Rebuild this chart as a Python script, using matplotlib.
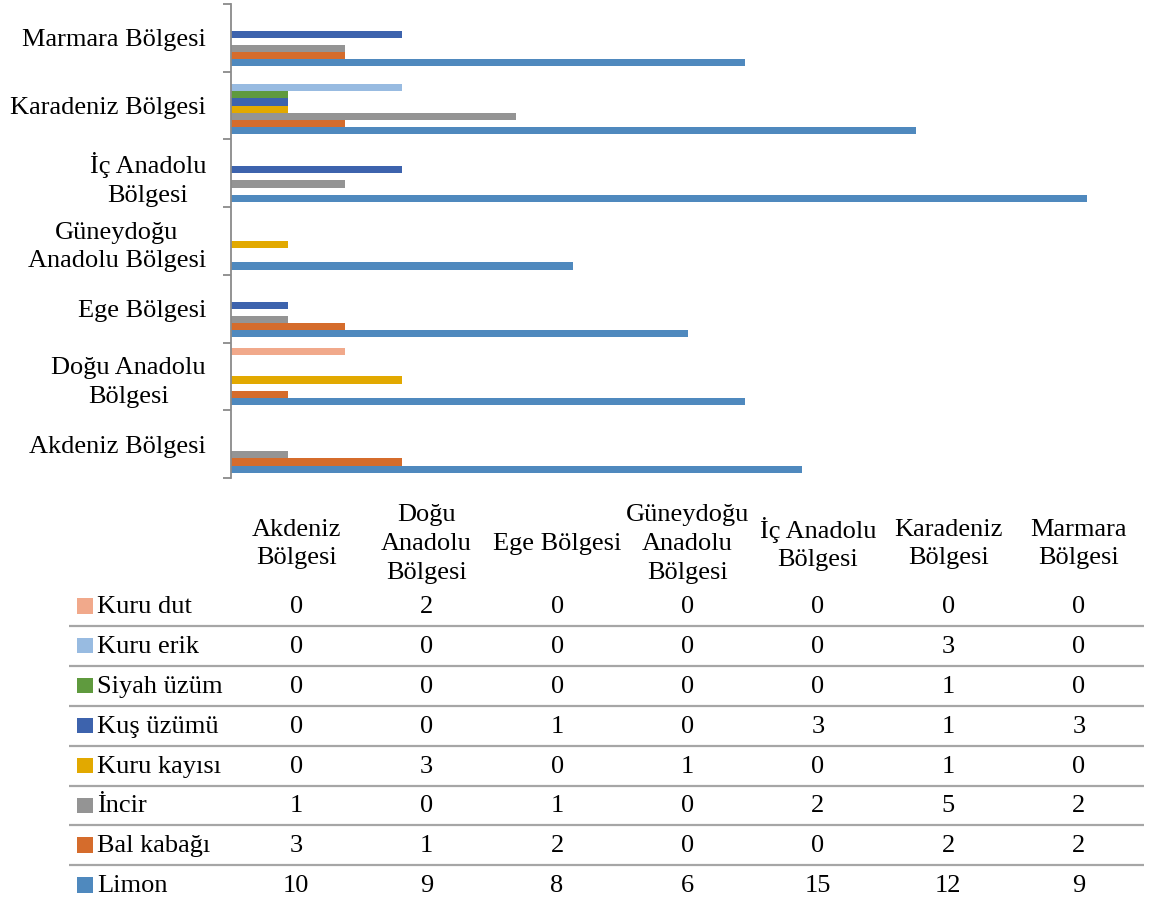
import matplotlib
matplotlib.use("Agg")
import matplotlib.pyplot as plt
import numpy as np

plt.rcParams["font.family"] = ["Liberation Serif", "DejaVu Serif"]

# regions, bottom to top on the bar axis (table columns read left to right)
REGIONS = ["Akdeniz Bölgesi", "Doğu Anadolu Bölgesi", "Ege Bölgesi",
           "Güneydoğu Anadolu Bölgesi", "İç Anadolu Bölgesi",
           "Karadeniz Bölgesi", "Marmara Bölgesi"]
AXIS_LABELS = ["Akdeniz Bölgesi", "Doğu Anadolu\nBölgesi", "Ege Bölgesi",
               "Güneydoğu\nAnadolu Bölgesi", "İç Anadolu\nBölgesi",
               "Karadeniz Bölgesi", "Marmara Bölgesi"]
TABLE_HEADERS = ["Akdeniz\nBölgesi", "Doğu\nAnadolu\nBölgesi", "Ege Bölgesi",
                 "Güneydoğu\nAnadolu\nBölgesi", "İç Anadolu\nBölgesi",
                 "Karadeniz\nBölgesi", "Marmara\nBölgesi"]

# series in plotting order (first = lowest bar in each group)
SERIES = ["Limon", "Bal kabağı", "İncir", "Kuru kayısı",
          "Kuş üzümü", "Siyah üzüm", "Kuru erik", "Kuru dut"]
limon = [10, 9, 8, 6, 15, 12, 9]
bal_kabagi = [3, 1, 2, 0, 0, 2, 2]
incir = [1, 0, 1, 0, 2, 5, 2]
kuru_kayisi = [0, 3, 0, 1, 0, 1, 0]
kus_uzumu = [0, 0, 1, 0, 3, 1, 3]
siyah_uzum = [0, 0, 0, 0, 0, 1, 0]
kuru_erik = [0, 0, 0, 0, 0, 3, 0]
kuru_dut = [0, 2, 0, 0, 0, 0, 0]
VALUES = [limon, bal_kabagi, incir, kuru_kayisi,
          kus_uzumu, siyah_uzum, kuru_erik, kuru_dut]

COLORS = ["#4f89be", "#d56c2c", "#949494", "#e2a900",
          "#3d63ad", "#5f9a3e", "#98bbe1", "#f1a98b"]

W, H = 1152, 902
FS = 19
LS = 1.4
fig = plt.figure(figsize=(W / 100, H / 100), dpi=100)

# plot area in pixels: x 231..1144, y 4..478
left, right, top, bottom = 231, 1144, 4, 478
ax = fig.add_axes([left / W, 1 - bottom / H, (right - left) / W, (bottom - top) / H])

n = len(SERIES)
gap = 1.5
bh = 1.0 / (n + gap)
cats = np.arange(len(REGIONS))
for i, (name, vals, col) in enumerate(zip(SERIES, VALUES, COLORS)):
    ypos = cats - 0.5 + bh * gap / 2 + (i + 0.5) * bh
    ax.barh(ypos, vals, height=bh, color=col, linewidth=0, label=name)

ax.set_xlim(0, 16)
ax.set_ylim(-0.5, len(REGIONS) - 0.5)
for s in ["top", "right", "bottom"]:
    ax.spines[s].set_visible(False)
ax.spines["left"].set_color("#8a8a8a")
ax.spines["left"].set_linewidth(1.3)
ax.set_xticks([])
ax.set_yticks(cats)
ax.set_yticklabels(AXIS_LABELS, fontsize=FS, multialignment="center", linespacing=LS)
ax.set_yticks(np.arange(-0.5, len(REGIONS)), minor=True)
ax.tick_params(axis="y", which="major", length=0, pad=18)
ax.tick_params(axis="y", which="minor", length=6, width=1.3, color="#8a8a8a", direction="out")

# data table below the plot, drawn in pixel coordinates
tax = fig.add_axes([0, 0, 1, 1])
tax.set_xlim(0, W)
tax.set_ylim(H, 0)
tax.axis("off")

col_x = left + (right - left) / len(REGIONS) * (np.arange(len(REGIONS)) + 0.5)
for x, lab in zip(col_x, TABLE_HEADERS):
    tax.text(x, 544, lab, fontsize=FS, ha="center", va="center",
             multialignment="center", linespacing=LS)

row_y0, row_h = 607, 39.9
rows = list(range(n))[::-1]  # Kuru dut first
for r, si in enumerate(rows):
    y = row_y0 + r * row_h
    tax.add_patch(plt.Rectangle((77, y - 9), 15.5, 15.5, color=COLORS[si], lw=0))
    tax.text(97, y, SERIES[si], fontsize=FS, ha="left", va="center")
    for x, v in zip(col_x, VALUES[si]):
        tax.text(x, y, str(v), fontsize=FS, ha="center", va="center")
    if r < n - 1:
        tax.plot([69, right], [y + row_h / 2 - 1] * 2, color="#a6a6a6", lw=1.6,
                 solid_capstyle="butt")

fig.savefig("out.png", dpi=100)
